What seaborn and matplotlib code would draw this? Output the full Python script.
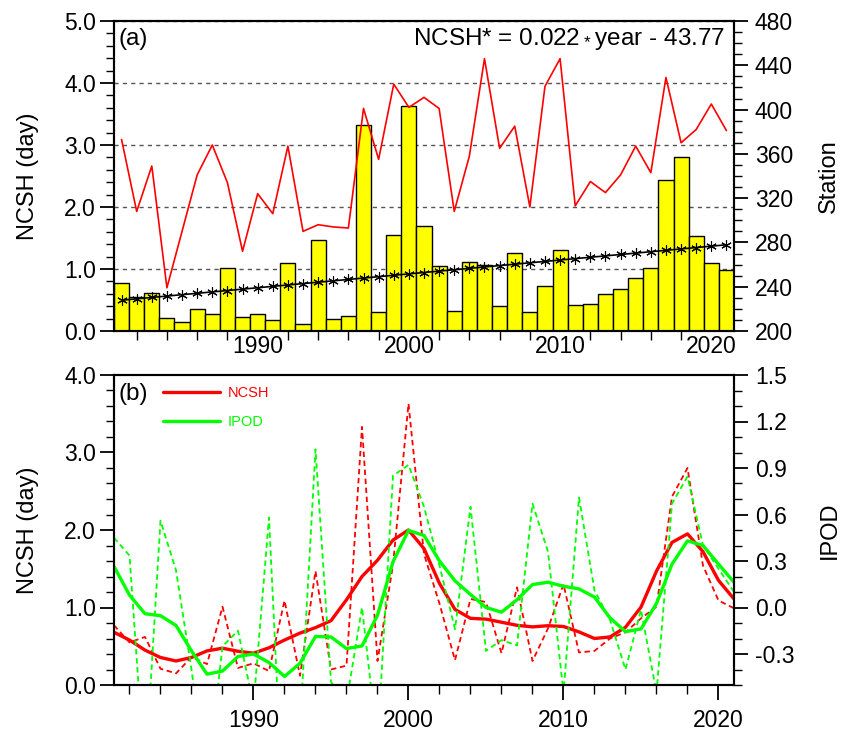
import numpy as np
import pandas as pd
import matplotlib
matplotlib.use("Agg")
import matplotlib.pyplot as plt
from matplotlib.ticker import MultipleLocator, FixedLocator, FormatStrFormatter
import seaborn as sns

# ---------------- data ----------------
years = list(range(1981, 2022))
ncsh = [0.77, 0.55, 0.62, 0.21, 0.15, 0.36, 0.27, 1.01, 0.22, 0.28,
        0.18, 1.09, 0.12, 1.47, 0.20, 0.25, 3.33, 0.31, 1.55, 3.63,
        1.69, 1.05, 0.32, 1.11, 1.07, 0.41, 1.26, 0.31, 0.73, 1.30,
        0.42, 0.44, 0.60, 0.68, 0.86, 1.01, 2.43, 2.80, 1.54, 1.09, 0.99]
station = [373, 308, 349, 239, 290, 341, 368, 334, 272, 324,
           306, 367, 290, 296, 294, 293, 401, 355, 423, 402,
           411, 401, 308, 358, 446, 365, 385, 312, 421, 446,
           313, 335, 325, 341, 367, 343, 429, 370, 382, 405, 381]
ncsh_smooth = [0.68, 0.58, 0.45, 0.355, 0.31, 0.355, 0.44, 0.475, 0.435, 0.41,
               0.48, 0.58, 0.67, 0.74, 0.83, 1.10, 1.40, 1.61, 1.87, 2.00,
               1.76, 1.31, 0.975, 0.86, 0.85, 0.81, 0.77, 0.75, 0.765, 0.755,
               0.685, 0.60, 0.62, 0.745, 1.005, 1.47, 1.84, 1.95, 1.72, 1.35, 1.11]
ipod = [0.45, 0.335, -1.10, 0.56, 0.24, -0.40, -1.14, -0.25, -0.15, -0.63,
        0.58, -1.50, -0.77, 1.02, -0.48, -0.61, 0.00, -0.88, 0.85, 0.92,
        0.65, 0.27, -0.14, 0.65, -0.28, -0.21, -0.245, 0.67, 0.36, -0.55,
        0.71, 0.11, -0.08, -0.40, -0.015, -0.55, 0.67, 0.845, 0.40, 0.25, 0.10]
ipod_smooth = [0.265, 0.08, -0.04, -0.053, -0.116, -0.28, -0.43, -0.41, -0.316, -0.30,
               -0.355, -0.445, -0.36, -0.187, -0.19, -0.265, -0.248, -0.05, 0.295, 0.497,
               0.465, 0.30, 0.172, 0.084, 0.0, -0.03, 0.05, 0.148, 0.163, 0.137,
               0.12, 0.067, -0.067, -0.156, -0.138, 0.026, 0.28, 0.43, 0.40, 0.28, 0.163]
equation = r"NCSH* = 0.022$\,_{*}\,$year - 43.77"

df = pd.DataFrame({"year": years, "ncsh": ncsh, "station": station,
                   "ncsh_smooth": ncsh_smooth, "ipod": ipod,
                   "ipod_smooth": ipod_smooth})

# ---------------- style ----------------
sns.set_style("ticks")
plt.rcParams["font.family"] = ["Liberation Sans", "DejaVu Sans"]
plt.rcParams.update({
    "axes.linewidth": 1.5,
    "axes.edgecolor": "black",
    "text.color": "black",
    "axes.labelcolor": "black",
    "xtick.color": "black",
    "ytick.color": "black",
    "mathtext.fontset": "custom",
    "mathtext.rm": "Liberation Sans",
    "mathtext.default": "regular",
})

fig = plt.figure(figsize=(8.42, 7.32), dpi=100)
L, W, H = 114 / 842, 620 / 842, 310 / 732
ax1 = fig.add_axes([L, 1 - 331 / 732, W, H])
ax3 = fig.add_axes([L, 1 - 685 / 732, W, H])

LBL = 16.5
YL = 17

# ---------------- panel (a) ----------------
sns.barplot(data=df, x="year", y="ncsh", native_scale=True, width=1.0,
            color="#FFFF00", saturation=1, edgecolor="black", linewidth=1.0,
            ax=ax1, zorder=2)
coef = np.polyfit(years, ncsh, 1)
trend = np.polyval(coef, years)
sns.lineplot(x=years, y=trend, ax=ax1, color="black", linewidth=1.2,
             marker=(6, 2, 0), markersize=7.5, markeredgecolor="black",
             markeredgewidth=0.8, zorder=4)
ax1.set_axisbelow(True)
ax1.yaxis.grid(True, linestyle=(0, (3, 3)), color="#555555", linewidth=1.0)
ax1.set_xlim(1980.5, 2021.5)
ax1.set_ylim(0, 5)
ax1.yaxis.set_major_locator(MultipleLocator(1.0))
ax1.yaxis.set_minor_locator(MultipleLocator(0.2))
ax1.yaxis.set_major_formatter(FormatStrFormatter("%.1f"))
ax1.xaxis.set_major_locator(FixedLocator([1990, 2000, 2010, 2020]))
ax1.xaxis.set_minor_locator(MultipleLocator(2))
ax1.xaxis.set_major_formatter(FormatStrFormatter("%d"))
ax1.set_xlabel("")
ax1.set_ylabel("NCSH (day)", fontsize=YL, labelpad=18)

ax2 = ax1.twinx()
sns.lineplot(data=df, x="year", y="station", ax=ax2, color="#FF0000",
             linewidth=1.2)
ax2.set_ylim(200, 480)
ax2.set_xlim(1980.5, 2021.5)
ax2.yaxis.set_major_locator(FixedLocator(list(range(200, 481, 40))))
ax2.yaxis.set_minor_locator(MultipleLocator(10))
ax2.set_xlabel("")
ax2.set_ylabel("Station", fontsize=YL, labelpad=18)

ax1.text(0.008, 0.922, "(a)", transform=ax1.transAxes, fontsize=LBL + 1,
         ha="left", va="baseline")
ax1.text(0.985, 0.922, equation, transform=ax1.transAxes, fontsize=17.5,
         ha="right", va="baseline", zorder=6)

# ---------------- panel (b) ----------------
sns.lineplot(data=df, x="year", y="ncsh", ax=ax3, color="#FF0000",
             linewidth=1.3, linestyle=(0, (3, 2)))
sns.lineplot(data=df, x="year", y="ncsh_smooth", ax=ax3, color="#FF0000",
             linewidth=2.4, label="NCSH")
ax3.set_xlim(1981, 2021)
ax3.set_ylim(0, 4)
ax3.yaxis.set_major_locator(MultipleLocator(1.0))
ax3.yaxis.set_minor_locator(MultipleLocator(0.2))
ax3.yaxis.set_major_formatter(FormatStrFormatter("%.1f"))
ax3.xaxis.set_major_locator(FixedLocator([1990, 2000, 2010, 2020]))
ax3.xaxis.set_minor_locator(MultipleLocator(2))
ax3.xaxis.set_major_formatter(FormatStrFormatter("%d"))
ax3.set_xlabel("")
ax3.set_ylabel("NCSH (day)", fontsize=YL, labelpad=18)

ax4 = ax3.twinx()
sns.lineplot(data=df, x="year", y="ipod", ax=ax4, color="#00FF00",
             linewidth=1.3, linestyle=(0, (3, 2)))
sns.lineplot(data=df, x="year", y="ipod_smooth", ax=ax4, color="#00FF00",
             linewidth=2.4, label="IPOD")
ax4.set_xlim(1981, 2021)
ax4.set_ylim(-0.5, 1.5)
ax4.yaxis.set_major_locator(FixedLocator([-0.3, 0.0, 0.3, 0.6, 0.9, 1.2, 1.5]))
ax4.yaxis.set_minor_locator(MultipleLocator(0.1))
ax4.yaxis.set_major_formatter(FormatStrFormatter("%.1f"))
ax4.set_xlabel("")
ax4.set_ylabel("IPOD", fontsize=YL, labelpad=18)

if ax3.get_legend() is not None:
    ax3.get_legend().remove()
h1 = [l for l in ax3.get_lines() if l.get_label() == "NCSH"]
h2 = [l for l in ax4.get_lines() if l.get_label() == "IPOD"]
ax4.legend(handles=h1 + h2, labels=["NCSH", "IPOD"], loc="upper left",
           bbox_to_anchor=(0.079, 0.963), frameon=False, fontsize=10.5,
           handlelength=3.9, handletextpad=0.55, labelspacing=1.0,
           borderpad=0, borderaxespad=0, labelcolor="linecolor")
ax3.text(0.008, 0.92, "(b)", transform=ax3.transAxes, fontsize=LBL + 1,
         ha="left", va="baseline")

# ---------------- ticks ----------------
for a in (ax1, ax3):
    a.tick_params(axis="y", which="major", length=10, width=1.3,
                  direction="out", labelsize=LBL, pad=3)
    a.tick_params(axis="y", which="minor", length=5.5, width=1.0,
                  direction="out")
for a in (ax2, ax4):
    a.tick_params(axis="y", which="major", length=10, width=1.3,
                  direction="out", labelsize=LBL, pad=5)
    a.tick_params(axis="y", which="minor", length=5.5, width=1.0,
                  direction="out")
ax1.tick_params(axis="x", which="major", length=5, width=1.3, direction="in",
                labelsize=LBL, pad=3)
ax1.tick_params(axis="x", which="minor", length=6.5, width=1.0, direction="out")
ax3.tick_params(axis="x", which="major", length=11, width=1.3, direction="out",
                labelsize=LBL, pad=6)
ax3.tick_params(axis="x", which="minor", length=6.5, width=1.0, direction="out")
for a in (ax1, ax2, ax3, ax4):
    for s in a.spines.values():
        s.set_linewidth(1.5)
        s.set_visible(True)
        s.set_color("black")

fig.savefig("out.png", dpi=100)
